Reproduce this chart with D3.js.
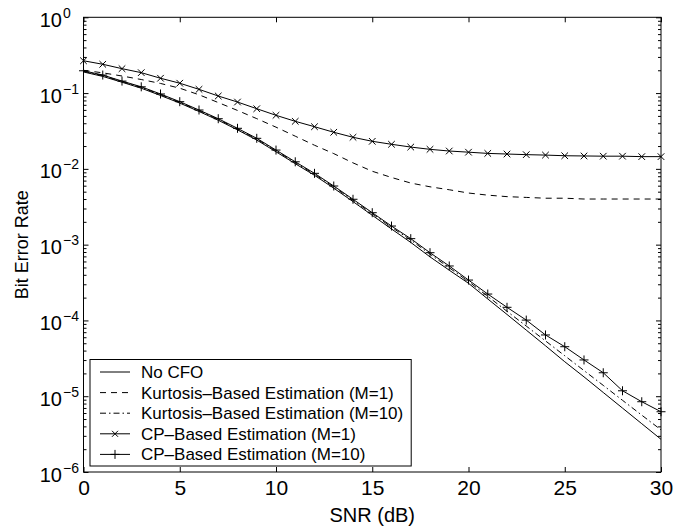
<!DOCTYPE html>
<html>
<head>
<meta charset="utf-8">
<script src="https://cdn.jsdelivr.net/npm/d3@7"></script>
<style>
  body { margin: 0; background: #fff; }
  svg { display: block; }
  text { font-family: "Liberation Sans", Arial, Helvetica, sans-serif; fill: #000; }
</style>
</head>
<body>
<svg id="chart" width="694" height="529"></svg>
<script>
// SNR grid (dB)
const snrDb = [0,1,2,3,4,5,6,7,8,9,10,11,12,13,14,15,16,17,18,19,20,21,22,23,24,25,26,27,28,29,30];

// Bit error rate per curve
const noCfo = [0.190,0.166,0.139,0.116,0.093,0.0738,0.0572,0.0438,0.0327,0.0240,0.0168,0.0117,0.00822,0.00556,0.00370,0.00244,0.00161,0.00107,6.9e-4,4.6e-4,3.09e-4,1.92e-4,1.20e-4,7.45e-5,4.63e-5,2.85e-5,1.80e-5,1.12e-5,6.97e-6,4.34e-6,2.70e-6];
const kurtosisM1 = [0.200,0.185,0.168,0.151,0.134,0.116,0.095,0.075,0.059,0.046,0.0355,0.027,0.0205,0.0159,0.0120,0.0093,0.0077,0.0065,0.0058,0.0053,0.0048,0.0045,0.0043,0.0042,0.0041,0.0041,0.0040,0.0040,0.0040,0.0040,0.0040];
const kurtosisM10 = [0.194,0.170,0.142,0.119,0.0955,0.0755,0.0586,0.0450,0.0336,0.0247,0.0173,0.0121,0.00850,0.00578,0.00385,0.00256,0.00170,0.00115,7.5e-4,4.95e-4,3.26e-4,2.08e-4,1.32e-4,8.43e-5,5.37e-5,3.42e-5,2.18e-5,1.39e-5,8.83e-6,5.63e-6,3.60e-6];
const cpM1 = [0.267,0.240,0.210,0.186,0.157,0.135,0.112,0.0915,0.0762,0.0622,0.0509,0.0424,0.0360,0.0304,0.0261,0.0231,0.0211,0.0194,0.0181,0.0172,0.0166,0.0160,0.0157,0.0154,0.0152,0.0149,0.0148,0.0147,0.0147,0.0145,0.0145];
const cpM10 = [0.197,0.173,0.144,0.121,0.0973,0.0770,0.0598,0.0459,0.0343,0.0253,0.0177,0.0124,0.00873,0.00594,0.00397,0.00264,0.00176,0.00120,7.83e-4,5.23e-4,3.41e-4,2.23e-4,1.49e-4,1.01e-4,6.43e-5,4.50e-5,3.01e-5,2.04e-5,1.18e-5,8.46e-6,6.24e-6];

const seriesNames = [
  "No CFO",
  "Kurtosis\u2013Based Estimation (M=1)",
  "Kurtosis\u2013Based Estimation (M=10)",
  "CP\u2013Based Estimation (M=1)",
  "CP\u2013Based Estimation (M=10)"
];

const xTicks = [0,5,10,15,20,25,30];
const yDecades = [0,-1,-2,-3,-4,-5,-6];

// Plot geometry
const plotLeft = 83.5, plotRight = 661, plotTop = 17.3, plotBottom = 472;

const svg = d3.select("#chart");
const x = d3.scaleLinear().domain([0, 30]).range([plotLeft, plotRight]);
const y = d3.scaleLog().domain([1e-6, 1]).range([plotBottom, plotTop]);

// Line styles per series
const styles = [
  { values: noCfo,       dash: null,          marker: null },
  { values: kurtosisM1,  dash: "6,5",         marker: null },
  { values: kurtosisM10, dash: "6,3,1.5,3",   marker: null },
  { values: cpM1,        dash: null,          marker: "x" },
  { values: cpM10,       dash: null,          marker: "+" }
];

const g = svg.append("g");

// X ticks (inward on bottom and top)
const gxb = g.append("g").attr("transform", `translate(0,${plotBottom})`)
  .call(d3.axisBottom(x).tickValues(xTicks).tickSizeInner(-5).tickSizeOuter(0).tickPadding(8).tickFormat(d3.format("d")));
const gxt = g.append("g").attr("transform", `translate(0,${plotTop})`)
  .call(d3.axisTop(x).tickValues(xTicks).tickSizeInner(-5).tickSizeOuter(0).tickFormat(""));
gxb.selectAll("text").attr("font-size", 21).attr("font-family", null);
[gxb, gxt].forEach(a => { a.select(".domain").remove(); a.selectAll("line").attr("stroke", "#000"); });

// Y ticks: decades (major) and 2..9 (minor), inward on both sides
const minorVals = [];
yDecades.slice(1).forEach(e => { for (let m = 2; m <= 9; m++) minorVals.push(m * Math.pow(10, e)); });
const majorVals = yDecades.map(e => Math.pow(10, e));
[[majorVals, 5], [minorVals, 3]].forEach(([vals, len]) => {
  const gl = g.append("g").attr("transform", `translate(${plotLeft},0)`)
    .call(d3.axisLeft(y).tickValues(vals).tickSizeInner(-len).tickSizeOuter(0).tickFormat(""));
  const gr = g.append("g").attr("transform", `translate(${plotRight},0)`)
    .call(d3.axisRight(y).tickValues(vals).tickSizeInner(-len).tickSizeOuter(0).tickFormat(""));
  [gl, gr].forEach(a => { a.select(".domain").remove(); a.selectAll("line").attr("stroke", "#000"); });
});

// Axis frame
g.append("rect")
  .attr("x", plotLeft).attr("y", plotTop)
  .attr("width", plotRight - plotLeft).attr("height", plotBottom - plotTop)
  .attr("fill", "none").attr("stroke", "#000").attr("stroke-width", 1);

// Y tick labels as 10 with superscript exponent
const yl = g.append("g");
yDecades.forEach(e => {
  const yy = y(Math.pow(10, e));
  yl.append("text").attr("x", 62).attr("y", yy + 9.5)
    .attr("text-anchor", "end").attr("font-size", 20).text("10");
  yl.append("text").attr("x", 63).attr("y", yy + 0.5)
    .attr("text-anchor", "start").attr("font-size", 14)
    .text(e === 0 ? "0" : "\u2212" + Math.abs(e));
});

// Axis titles
svg.append("text").attr("x", (plotLeft + plotRight) / 2).attr("y", 522)
  .attr("text-anchor", "middle").attr("font-size", 20).text("SNR (dB)");
svg.append("text").attr("transform", `translate(28,${(plotTop + plotBottom) / 2}) rotate(-90)`)
  .attr("text-anchor", "middle").attr("font-size", 18).text("Bit Error Rate");

// Curves
const line = d3.line().x((d, i) => x(snrDb[i])).y(d => y(d));
const plot = svg.append("g");
styles.forEach(s => {
  plot.append("path").datum(s.values)
    .attr("d", line)
    .attr("fill", "none").attr("stroke", "#000").attr("stroke-width", 1)
    .attr("stroke-dasharray", s.dash);
});

function drawMarker(sel, type, cx, cy, r) {
  const d = type === "x"
    ? `M${cx - r},${cy - r}L${cx + r},${cy + r}M${cx - r},${cy + r}L${cx + r},${cy - r}`
    : `M${cx - r},${cy}L${cx + r},${cy}M${cx},${cy - r}L${cx},${cy + r}`;
  sel.append("path").attr("d", d).attr("stroke", "#000").attr("stroke-width", 1).attr("fill", "none");
}
styles.forEach(s => {
  if (!s.marker) return;
  s.values.forEach((v, i) => drawMarker(plot, s.marker, x(snrDb[i]), y(v), s.marker === "x" ? 3.3 : 4.5));
});

// Legend
const lg = svg.append("g");
const lgX = 90, lgY = 359.5, lgH = 106.5;
const box = lg.append("rect").attr("x", lgX).attr("y", lgY).attr("height", lgH)
  .attr("fill", "#fff").attr("stroke", "#000").attr("stroke-width", 1);
let maxW = 0;
seriesNames.forEach((name, i) => {
  const ry = lgY + 12.5 + i * 20.6;
  lg.append("line").attr("x1", 100).attr("x2", 130).attr("y1", ry).attr("y2", ry)
    .attr("stroke", "#000").attr("stroke-width", 1).attr("stroke-dasharray", styles[i].dash);
  if (styles[i].marker) drawMarker(lg, styles[i].marker, 115, ry, styles[i].marker === "x" ? 3 : 4.5);
  const t = lg.append("text").attr("x", 141).attr("y", ry + 6).attr("font-size", 17).text(name);
  maxW = Math.max(maxW, t.node().getComputedTextLength());
});
box.attr("width", 141 + maxW + 8 - lgX);
</script>
</body>
</html>
